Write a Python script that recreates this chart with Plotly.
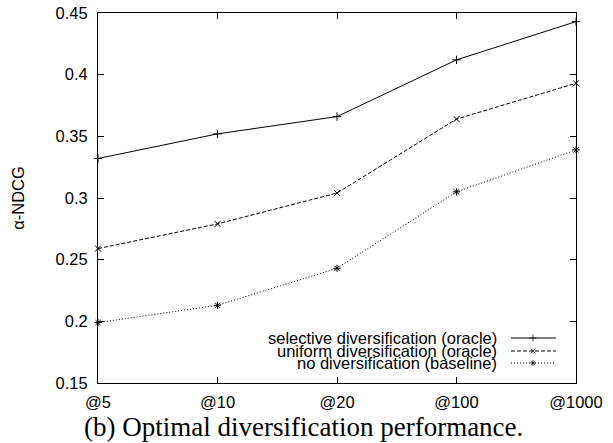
import plotly.graph_objects as go

categories = ["@5", "@10", "@20", "@100", "@1000"]
selective = [0.332, 0.352, 0.366, 0.412, 0.443]
uniform = [0.259, 0.279, 0.304, 0.364, 0.393]
baseline = [0.199, 0.213, 0.243, 0.305, 0.339]
series_names = ["selective diversification (oracle)",
                "uniform diversification (oracle)",
                "no diversification (baseline)"]
y_ticks = [0.15, 0.2, 0.25, 0.3, 0.35, 0.4, 0.45]
y_tick_labels = ["0.15", "0.2", "0.25", "0.3", "0.35", "0.4", "0.45"]

SANS = "Liberation Sans, Arial, Helvetica, sans-serif"
FS = 16.5

styles = [
    dict(dash="solid", symbol="cross-thin-open"),
    dict(dash="4px,2px", symbol="x-thin-open"),
    dict(dash="1px,2px", symbol="asterisk-open"),
]
xidx = list(range(len(categories)))

fig = go.Figure()
for vals, st in zip([selective, uniform, baseline], styles):
    fig.add_trace(go.Scatter(
        x=xidx, y=vals, mode="lines+markers",
        line=dict(color="black", width=1, dash=st["dash"]),
        marker=dict(symbol=st["symbol"], size=6, color="black",
                    line=dict(color="black", width=1)),
        showlegend=False, cliponaxis=False))

# custom legend (text right-aligned, sample on the right)
leg_rows = [0.1216, 0.0865, 0.054]
for name, st, ry in zip(series_names, styles, leg_rows):
    fig.add_annotation(xref="paper", yref="paper", x=0.839, y=ry, text=name,
                       showarrow=False, xanchor="right", yanchor="middle",
                       font=dict(family=SANS, size=FS, color="black"))
    fig.add_trace(go.Scatter(
        x=[0.864, 0.91, 0.958], y=[ry, ry, ry], xaxis="x2", yaxis="y2",
        mode="lines+markers",
        line=dict(color="black", width=1, dash=st["dash"]),
        marker=dict(symbol=st["symbol"], size=[0, 5, 0], color="black",
                    line=dict(color="black", width=1)),
        showlegend=False, hoverinfo="skip"))

fig.update_layout(
    width=613, height=443,
    margin=dict(l=98, r=37, t=13, b=60),
    paper_bgcolor="white", plot_bgcolor="white",
    font=dict(family=SANS, size=FS, color="black"),
    xaxis=dict(range=[0, 4], tickmode="array", tickvals=xidx, ticktext=categories,
               ticks="inside", ticklen=6, tickcolor="black", showline=True,
               linecolor="black", linewidth=1, mirror="allticks", showgrid=False,
               zeroline=False, tickfont=dict(size=FS), ticklabelstandoff=4,
               automargin=False, ticklabeloverflow="allow"),
    yaxis=dict(range=[0.15, 0.45], tickmode="array", tickvals=y_ticks,
               ticktext=y_tick_labels, ticks="inside", ticklen=6, tickcolor="black",
               showline=True, linecolor="black", linewidth=1, mirror="allticks",
               showgrid=False, zeroline=False, tickfont=dict(size=FS),
               ticklabelstandoff=6, automargin=False, ticklabeloverflow="allow",
               title=dict(text="α-NDCG", font=dict(size=FS), standoff=26)),
    xaxis2=dict(overlaying="x", range=[0, 1], visible=False, fixedrange=True),
    yaxis2=dict(overlaying="y", range=[0, 1], visible=False, fixedrange=True),
)

fig.add_annotation(xref="paper", yref="paper", x=0.43, y=-0.119,
                   text="(b) Optimal diversification performance.",
                   showarrow=False, xanchor="center", yanchor="middle",
                   font=dict(family="Liberation Serif, Times New Roman, serif", size=27, color="black"))

# remove the browser's default 8px body margin so the figure fills the window
fig.write_html("out.html", config={"displayModeBar": False},
               post_script="document.body.style.margin='0';")
